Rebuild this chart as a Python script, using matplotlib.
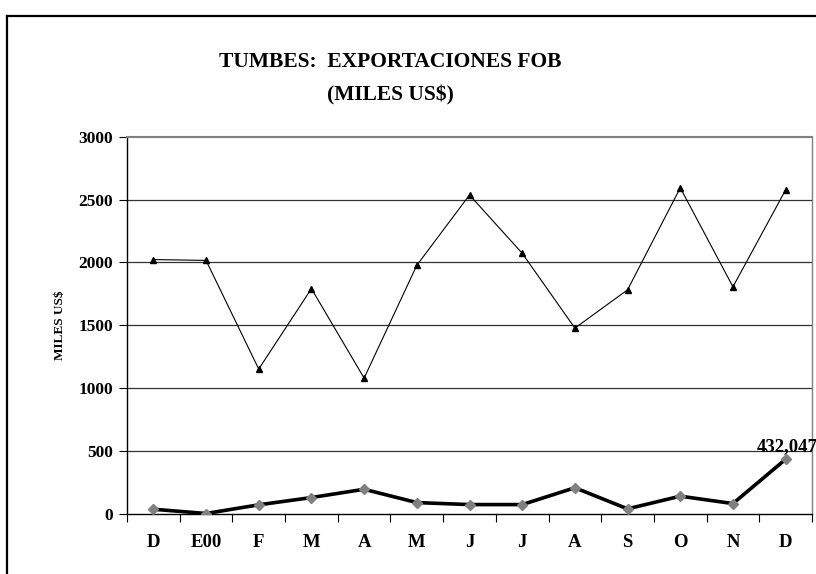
import matplotlib
matplotlib.use("Agg")
import matplotlib.pyplot as plt
from matplotlib.lines import Line2D

# --- Data ---
months = ["D", "E00", "F", "M", "A", "M", "J", "J", "A", "S", "O", "N", "D"]
serie_alta = [2022, 2015, 1150, 1790, 1078, 1976, 2536, 2072, 1476, 1781, 2593, 1805, 2577]
serie_baja = [34, 0, 69, 127, 193, 87, 71, 71, 205, 37, 138, 79, 432.047]
yticks = [0, 500, 1000, 1500, 2000, 2500, 3000]
last_label = "432,047"

plt.rcParams["font.family"] = ["Liberation Serif", "DejaVu Serif"]
plt.rcParams["font.weight"] = "bold"

fig = plt.figure(figsize=(8.16, 5.74), dpi=100)
ax = fig.add_axes([127 / 816, 1 - 513.5 / 574, (812 - 127) / 816, (513.5 - 136.7) / 574])

x = list(range(len(months)))

# gridlines
for v in yticks[1:-1]:
    ax.axhline(v, color="#333333", lw=0.9, zorder=1)

ax.plot(x, serie_alta, color="black", lw=0.8, marker="^", markersize=4.8,
        markerfacecolor="black", markeredgecolor="black", zorder=3)
ax.plot(x, serie_baja, color="black", lw=2.6, marker="D", markersize=5.2,
        markerfacecolor="#808080", markeredgecolor="#808080", zorder=3)

ax.annotate(last_label, (x[-1], serie_baja[-1]), xytext=(1, 3), textcoords="offset points",
            ha="center", va="bottom", fontsize=13.5, fontweight="bold", annotation_clip=False)

ax.set_xlim(-0.5, len(months) - 0.5)
ax.set_ylim(0, 3000)
ax.set_yticks(yticks)
ax.set_yticklabels([str(v) for v in yticks], fontsize=12.5, fontweight="bold")

# category boundaries as major ticks, labels on minor ticks
ax.set_xticks([i - 0.5 for i in range(len(months) + 1)])
ax.set_xticklabels([])
ax.set_xticks(x, minor=True)
ax.set_xticklabels(months, minor=True, fontsize=13.5, fontweight="bold")
ax.tick_params(axis="x", which="major", direction="out", length=6, width=0.8)
ax.tick_params(axis="x", which="minor", length=0, pad=15)
ax.tick_params(axis="y", direction="out", length=6, width=0.8, pad=4)

ax.spines["left"].set_color("black")
ax.spines["bottom"].set_color("black")
ax.spines["top"].set_color("#808080")
ax.spines["right"].set_color("#808080")
for s in ax.spines.values():
    s.set_linewidth(1.0)
ax.spines["top"].set_linewidth(1.5)

ax.set_ylabel("MILES US$", fontsize=9.5, fontweight="bold")
ax.yaxis.set_label_coords(-(127 - 66) / 685, 0.5)

fig.text(390 / 816, 1 - 62 / 574, "TUMBES:  EXPORTACIONES FOB", ha="center", va="center",
         fontsize=15.5, fontweight="bold")
fig.text(390 / 816, 1 - 95 / 574, "(MILES US$)", ha="center", va="center",
         fontsize=15.5, fontweight="bold")

# outer chart frame (continues past the image edge)
fig.add_artist(Line2D([7 / 816, 1.0], [1 - 16 / 574, 1 - 16 / 574], transform=fig.transFigure,
                      color="black", lw=1.6))
fig.add_artist(Line2D([7 / 816, 7 / 816], [1 - 16 / 574, 0.0], transform=fig.transFigure,
                      color="black", lw=1.6))

fig.savefig("out.png", dpi=100)
